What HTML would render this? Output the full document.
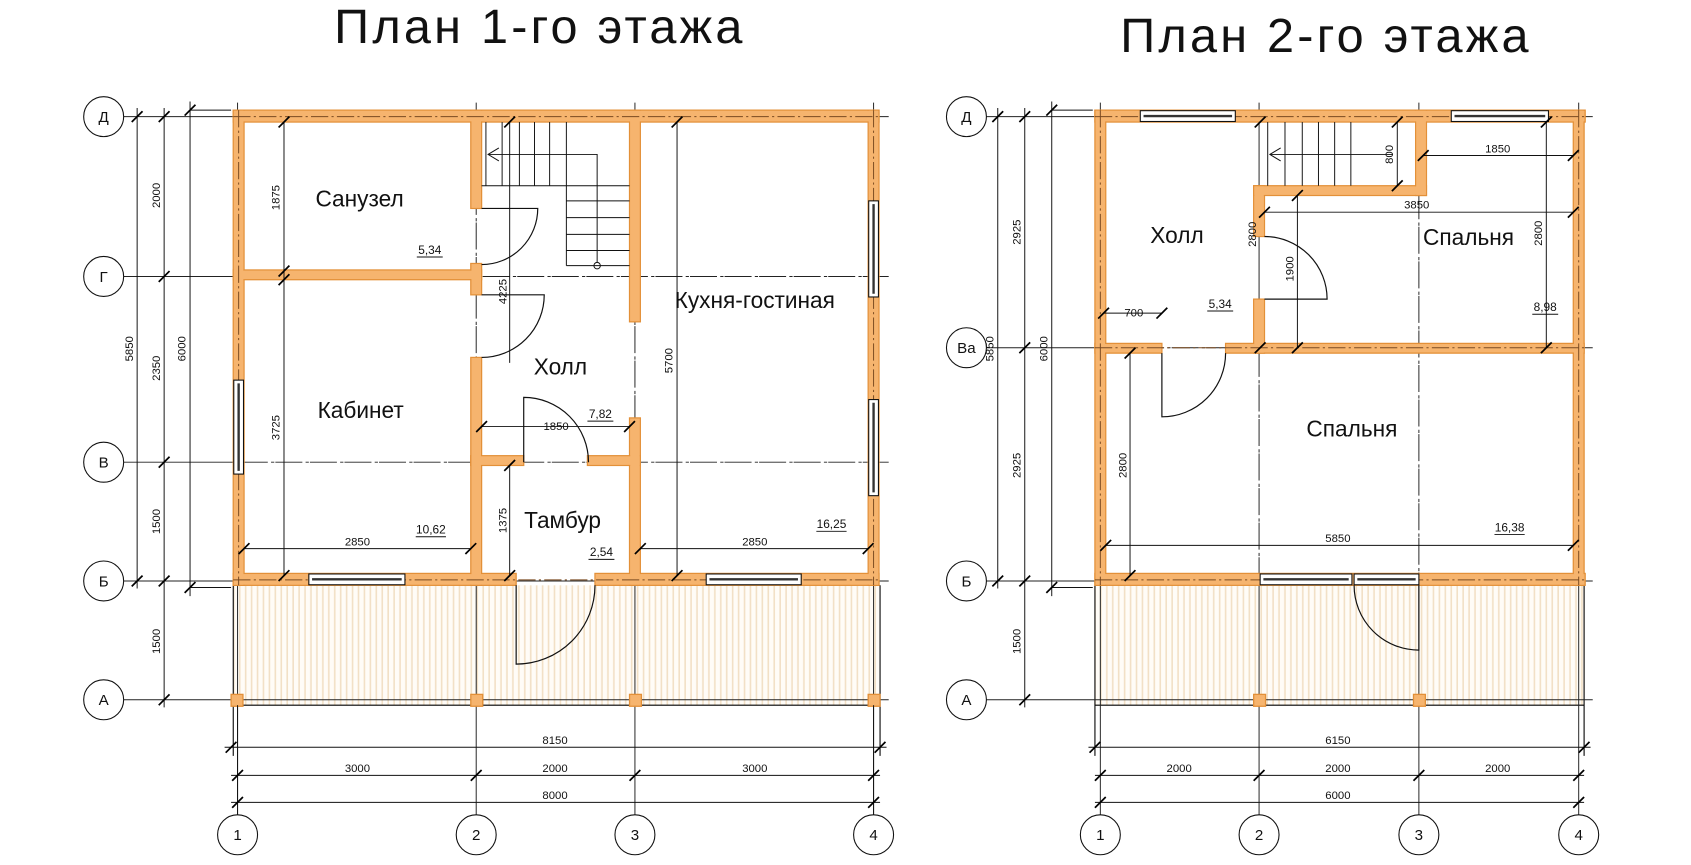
<!DOCTYPE html>
<html><head><meta charset="utf-8"><style>
html,body{margin:0;padding:0;background:#fff;}
svg{display:block;}
text{font-family:"Liberation Sans","DejaVu Sans",sans-serif;fill:#111;}
.d{font-size:10.5px;}
.r{font-size:21px;}
.t{font-size:45px;letter-spacing:3px;}
.c{font-size:14px;}
</style></head><body>
<svg width="1691" height="865" viewBox="0 0 1566 801" preserveAspectRatio="none" xmlns="http://www.w3.org/2000/svg">
<defs>
<pattern id="hp" width="5.5" height="10" patternUnits="userSpaceOnUse">
<rect width="5.5" height="10" fill="#fffcf7"/>
<line x1="2" y1="0" x2="2" y2="10" stroke="#f2e0c6" stroke-width="1.5"/>
</pattern>
<line id="k" x1="-5" y1="5" x2="5" y2="-5" stroke="#000" stroke-width="1.6"/>
</defs>

<text class="t" x="500" y="40" text-anchor="middle">План 1-го этажа</text>
<text class="t" x="1228" y="48" text-anchor="middle">План 2-го этажа</text>

<rect x="216" y="542" width="598" height="111" fill="url(#hp)"/>
<rect x="1014" y="542" width="454" height="111" fill="url(#hp)"/>
<g stroke="#000" stroke-width="1" fill="none">
<line x1="216" y1="542" x2="216" y2="700"/><line x1="815" y1="542" x2="815" y2="700"/>
<line x1="216" y1="653" x2="815" y2="653"/>
<line x1="1014" y1="542" x2="1014" y2="700"/><line x1="1467" y1="542" x2="1467" y2="700"/>
<line x1="1014" y1="653" x2="1467" y2="653"/>
</g>

<g stroke="#222" stroke-width="0.9" fill="none">
<line x1="114" y1="108" x2="823" y2="108"/><line x1="114" y1="256" x2="823" y2="256"/>
<line x1="114" y1="428" x2="823" y2="428"/><line x1="114" y1="538" x2="823" y2="538"/>
<line x1="114" y1="648" x2="823" y2="648"/>
<line x1="220" y1="95" x2="220" y2="755"/><line x1="441" y1="95" x2="441" y2="755"/>
<line x1="588" y1="95" x2="588" y2="755"/><line x1="809" y1="95" x2="809" y2="755"/>
<line x1="913" y1="108" x2="1475" y2="108"/><line x1="913" y1="322" x2="1475" y2="322"/>
<line x1="913" y1="538" x2="1475" y2="538"/><line x1="913" y1="648" x2="1475" y2="648"/>
<line x1="1019" y1="95" x2="1019" y2="755"/><line x1="1166" y1="95" x2="1166" y2="755"/>
<line x1="1314" y1="95" x2="1314" y2="755"/><line x1="1462" y1="95" x2="1462" y2="755"/>
</g>
<g stroke="#fff" stroke-width="2" stroke-dasharray="0 22 3 3 1 3" fill="none">
<line x1="226" y1="256" x2="804" y2="256"/><line x1="226" y1="428" x2="804" y2="428"/>
<line x1="441" y1="113" x2="441" y2="531"/><line x1="588" y1="113" x2="588" y2="531"/>
<line x1="1024" y1="322" x2="1457" y2="322"/>
<line x1="1166" y1="327" x2="1166" y2="531"/><line x1="1314" y1="181" x2="1314" y2="531"/>
</g>

<g fill="#f6b46e" stroke="#e39038" stroke-width="1.2">
<rect x="216" y="102" width="598" height="11"/><rect x="216" y="531" width="262" height="11"/>
<rect x="551" y="531" width="263" height="11"/><rect x="216" y="102" width="10" height="440"/>
<rect x="804" y="102" width="10" height="440"/>
<rect x="216" y="250" width="230" height="9"/>
<rect x="436" y="102" width="10" height="91"/><rect x="436" y="244" width="10" height="29"/>
<rect x="436" y="331" width="10" height="211"/>
<rect x="583" y="102" width="10" height="196"/><rect x="583" y="387" width="10" height="155"/>
<rect x="436" y="422" width="49" height="9"/><rect x="544" y="422" width="49" height="9"/>
<rect x="214" y="643" width="11" height="11"/><rect x="436" y="643" width="11" height="11"/>
<rect x="583" y="643" width="11" height="11"/><rect x="804" y="643" width="11" height="11"/>
<rect x="1014" y="102" width="454" height="11"/><rect x="1014" y="531" width="454" height="11"/>
<rect x="1014" y="102" width="10" height="440"/><rect x="1457" y="102" width="10" height="440"/>
<rect x="1014" y="318" width="62" height="9"/><rect x="1135" y="318" width="332" height="9"/>
<rect x="1161" y="172" width="10" height="47"/><rect x="1161" y="277" width="10" height="50"/>
<rect x="1161" y="172" width="160" height="9"/><rect x="1311" y="102" width="10" height="79"/>
<rect x="1161" y="643" width="11" height="11"/><rect x="1309" y="643" width="11" height="11"/>
</g>
<g fill="#f6b46e">
<rect x="216.6" y="102.6" width="596.8" height="9.8"/><rect x="216.6" y="531.6" width="260.8" height="9.8"/>
<rect x="551.6" y="531.6" width="261.8" height="9.8"/><rect x="216.6" y="102.6" width="8.8" height="438.8"/>
<rect x="804.6" y="102.6" width="8.8" height="438.8"/>
<rect x="226" y="250.6" width="219.4" height="7.8"/>
<rect x="436.6" y="103" width="8.8" height="89.4"/><rect x="436.6" y="244.6" width="8.8" height="27.8"/>
<rect x="436.6" y="331.6" width="8.8" height="209"/>
<rect x="583.6" y="103" width="8.8" height="194.4"/><rect x="583.6" y="387.6" width="8.8" height="153"/>
<rect x="437" y="422.6" width="47.4" height="7.8"/><rect x="544.6" y="422.6" width="47.4" height="7.8"/>
<rect x="1014.6" y="102.6" width="452.8" height="9.8"/><rect x="1014.6" y="531.6" width="452.8" height="9.8"/>
<rect x="1014.6" y="102.6" width="8.8" height="438.8"/><rect x="1457.6" y="102.6" width="8.8" height="438.8"/>
<rect x="1015" y="318.6" width="60.4" height="7.8"/><rect x="1135.6" y="318.6" width="331" height="7.8"/>
<rect x="1161.6" y="172.6" width="8.8" height="46"/><rect x="1161.6" y="277.6" width="8.8" height="49"/>
<rect x="1162" y="172.6" width="158.4" height="7.8"/><rect x="1311.6" y="103" width="8.8" height="77.4"/>
</g>
<g stroke="#7a4a20" stroke-width="0.9" stroke-dasharray="16 3 2 3" fill="none">
<line x1="216" y1="108" x2="814" y2="108"/><line x1="216" y1="537" x2="814" y2="537"/>
<line x1="221" y1="102" x2="221" y2="542"/><line x1="809" y1="102" x2="809" y2="542"/>
<line x1="1014" y1="108" x2="1467" y2="108"/><line x1="1014" y1="537" x2="1467" y2="537"/>
<line x1="1019" y1="102" x2="1019" y2="542"/><line x1="1462" y1="102" x2="1462" y2="542"/>
<line x1="1014" y1="322" x2="1467" y2="322"/>
</g>

<g fill="#fff" stroke="#111" stroke-width="1">
<rect x="216.5" y="352" width="9" height="87"/><rect x="804.5" y="186" width="9" height="89"/>
<rect x="804.5" y="370" width="9" height="89"/>
<rect x="286" y="531.5" width="89" height="10"/><rect x="654" y="531.5" width="88" height="10"/>
<rect x="1056" y="102.5" width="88" height="10"/><rect x="1344" y="102.5" width="90" height="10"/>
<rect x="1167" y="531.5" width="85" height="10"/><rect x="1254" y="531.5" width="60" height="10"/>
</g>
<g stroke="#333" stroke-width="2.2" fill="none">
<line x1="221" y1="355" x2="221" y2="436"/><line x1="809" y1="189" x2="809" y2="272"/>
<line x1="809" y1="373" x2="809" y2="456"/>
<line x1="289" y1="536.5" x2="372" y2="536.5"/><line x1="657" y1="536.5" x2="739" y2="536.5"/>
<line x1="1059" y1="107.5" x2="1141" y2="107.5"/><line x1="1347" y1="107.5" x2="1431" y2="107.5"/>
<line x1="1170" y1="536.5" x2="1249" y2="536.5"/><line x1="1257" y1="536.5" x2="1311" y2="536.5"/>
</g>

<g stroke="#111" stroke-width="1.1" fill="none">
<path d="M446 193 H498 A52 52 0 0 1 446 245"/>
<path d="M446 273 H504 A58 58 0 0 1 446 331"/>
<path d="M485 428 V368 A60 60 0 0 1 545 428"/>
<path d="M478 542 V615 A73 73 0 0 0 551 542"/>
<path d="M1171 277 H1229 A58 58 0 0 0 1171 219"/>
<path d="M1076 327 V386 A59 59 0 0 0 1135 327"/>
<path d="M1314 542 V602 A60 60 0 0 1 1254 542"/>
</g>

<g stroke="#111" stroke-width="0.9" fill="none">
<line x1="450" y1="113" x2="450" y2="172"/><line x1="465" y1="113" x2="465" y2="172"/>
<line x1="481" y1="113" x2="481" y2="172"/><line x1="495" y1="113" x2="495" y2="172"/>
<line x1="509" y1="113" x2="509" y2="172"/><line x1="524.5" y1="113" x2="524.5" y2="246"/>
<line x1="446" y1="172" x2="583" y2="172"/>
<line x1="524.5" y1="186" x2="583" y2="186"/><line x1="524.5" y1="201.5" x2="583" y2="201.5"/>
<line x1="524.5" y1="217" x2="583" y2="217"/><line x1="524.5" y1="232" x2="583" y2="232"/>
<line x1="524.5" y1="246" x2="583" y2="246"/>
<path d="M452 143 H553 V243"/><circle cx="553" cy="246" r="3"/>
<path d="M462 137 L452 143 L462 149"/>
<line x1="1174" y1="113" x2="1174" y2="172"/><line x1="1190" y1="113" x2="1190" y2="172"/>
<line x1="1206" y1="113" x2="1206" y2="172"/><line x1="1221" y1="113" x2="1221" y2="172"/>
<line x1="1236" y1="113" x2="1236" y2="172"/><line x1="1251" y1="113" x2="1251" y2="172"/>
<path d="M1176 143 H1290"/><path d="M1186 137 L1176 143 L1186 149"/>
</g>

<g stroke="#111" stroke-width="0.9" fill="none">
<line x1="127" y1="100" x2="127" y2="545"/><line x1="152" y1="100" x2="152" y2="655"/>
<line x1="176" y1="94" x2="176" y2="552"/>
<line x1="176" y1="102" x2="214" y2="102"/><line x1="176" y1="544" x2="214" y2="544"/>
<line x1="263" y1="113" x2="263" y2="533"/>
<line x1="472" y1="113" x2="472" y2="336"/><line x1="472" y1="431" x2="472" y2="533"/>
<line x1="627" y1="113" x2="627" y2="533"/>
<line x1="226" y1="508" x2="436" y2="508"/><line x1="446" y1="395" x2="583" y2="395"/>
<line x1="593" y1="508" x2="804" y2="508"/>
<line x1="208" y1="692" x2="821" y2="692"/><line x1="214" y1="718" x2="815" y2="718"/>
<line x1="214" y1="743" x2="815" y2="743"/>
<line x1="924" y1="100" x2="924" y2="545"/><line x1="949" y1="100" x2="949" y2="655"/>
<line x1="974" y1="94" x2="974" y2="552"/>
<line x1="974" y1="102" x2="1012" y2="102"/><line x1="974" y1="544" x2="1012" y2="544"/>
<line x1="1022" y1="290" x2="1076" y2="290"/>
<line x1="1294" y1="113" x2="1294" y2="172"/>
<line x1="1318" y1="144" x2="1457" y2="144"/>
<line x1="1171" y1="196.5" x2="1457" y2="196.5"/>
<line x1="1201.5" y1="181" x2="1201.5" y2="322"/>
<line x1="1432" y1="113" x2="1432" y2="322"/>
<line x1="1046.5" y1="327" x2="1046.5" y2="533"/>
<line x1="1024" y1="505" x2="1457" y2="505"/>
<line x1="1008" y1="692" x2="1473" y2="692"/><line x1="1014" y1="718" x2="1467" y2="718"/>
<line x1="1014" y1="743" x2="1467" y2="743"/>
<line x1="220" y1="653" x2="220" y2="755"/><line x1="809" y1="653" x2="809" y2="755"/>
</g>

<g>
<use href="#k" x="127" y="108"/><use href="#k" x="127" y="538"/>
<use href="#k" x="152" y="108"/><use href="#k" x="152" y="256"/><use href="#k" x="152" y="428"/>
<use href="#k" x="152" y="538"/><use href="#k" x="152" y="648"/>
<use href="#k" x="176" y="102"/><use href="#k" x="176" y="544"/>
<use href="#k" x="263" y="113"/><use href="#k" x="263" y="251"/><use href="#k" x="263" y="259"/><use href="#k" x="263" y="533"/>
<use href="#k" x="472" y="113"/><use href="#k" x="472" y="431"/><use href="#k" x="472" y="533"/>
<use href="#k" x="627" y="113"/><use href="#k" x="627" y="533"/>
<use href="#k" x="226" y="508"/><use href="#k" x="436" y="508"/>
<use href="#k" x="446" y="395"/><use href="#k" x="583" y="395"/>
<use href="#k" x="593" y="508"/><use href="#k" x="804" y="508"/>
<use href="#k" x="214" y="692"/><use href="#k" x="815" y="692"/>
<use href="#k" x="220" y="718"/><use href="#k" x="441" y="718"/><use href="#k" x="588" y="718"/><use href="#k" x="809" y="718"/>
<use href="#k" x="220" y="743"/><use href="#k" x="809" y="743"/>
<use href="#k" x="924" y="108"/><use href="#k" x="924" y="538"/>
<use href="#k" x="949" y="108"/><use href="#k" x="949" y="322"/><use href="#k" x="949" y="538"/><use href="#k" x="949" y="648"/>
<use href="#k" x="974" y="102"/><use href="#k" x="974" y="544"/>
<use href="#k" x="1022" y="290"/><use href="#k" x="1076" y="290"/>
<use href="#k" x="1294" y="113"/><use href="#k" x="1294" y="172"/>
<use href="#k" x="1318" y="144"/><use href="#k" x="1457" y="144"/>
<use href="#k" x="1171" y="196.5"/><use href="#k" x="1457" y="196.5"/>
<use href="#k" x="1201.5" y="181"/><use href="#k" x="1201.5" y="322"/>
<use href="#k" x="1432" y="113"/><use href="#k" x="1432" y="322"/>
<use href="#k" x="1046.5" y="327"/><use href="#k" x="1046.5" y="533"/>
<use href="#k" x="1167" y="113"/><use href="#k" x="1167" y="322"/>
<use href="#k" x="1024" y="505"/><use href="#k" x="1457" y="505"/>
<use href="#k" x="1014" y="692"/><use href="#k" x="1467" y="692"/>
<use href="#k" x="1019" y="718"/><use href="#k" x="1166" y="718"/><use href="#k" x="1314" y="718"/><use href="#k" x="1462" y="718"/>
<use href="#k" x="1019" y="743"/><use href="#k" x="1462" y="743"/>
</g>

<g class="d" text-anchor="middle">
<text transform="translate(148,181) rotate(-90)">2000</text>
<text transform="translate(259,183) rotate(-90)">1875</text>
<text transform="translate(123,323) rotate(-90)">5850</text>
<text transform="translate(148,341) rotate(-90)">2350</text>
<text transform="translate(172,323) rotate(-90)">6000</text>
<text transform="translate(259,396) rotate(-90)">3725</text>
<text transform="translate(148,483) rotate(-90)">1500</text>
<text transform="translate(148,594) rotate(-90)">1500</text>
<text transform="translate(469,270) rotate(-90)">4225</text>
<text transform="translate(623,334) rotate(-90)">5700</text>
<text transform="translate(469,482) rotate(-90)">1375</text>
<text transform="translate(945,215) rotate(-90)">2925</text>
<text transform="translate(945,431) rotate(-90)">2925</text>
<text transform="translate(945,594) rotate(-90)">1500</text>
<text transform="translate(920,323) rotate(-90)">5850</text>
<text transform="translate(970,323) rotate(-90)">6000</text>
<text transform="translate(1290,143) rotate(-90)">800</text>
<text transform="translate(1163,217) rotate(-90)">2800</text>
<text transform="translate(1198,249) rotate(-90)">1900</text>
<text transform="translate(1428,216) rotate(-90)">2800</text>
<text transform="translate(1043,431) rotate(-90)">2800</text>
<text x="331" y="505">2850</text><text x="515" y="398">1850</text><text x="699" y="505">2850</text>
<text x="514" y="689">8150</text><text x="331" y="715">3000</text><text x="514" y="715">2000</text>
<text x="699" y="715">3000</text><text x="514" y="740">8000</text>
<text x="1050" y="293">700</text><text x="1387" y="141">1850</text><text x="1312" y="193">3850</text>
<text x="1239" y="502">5850</text>
<text x="1239" y="689">6150</text><text x="1092" y="715">2000</text><text x="1239" y="715">2000</text>
<text x="1387" y="715">2000</text><text x="1239" y="740">6000</text>
</g>

<g class="d" text-anchor="middle" style="font-size:11px">
<text x="398" y="235">5,34</text><text x="399" y="494">10,62</text><text x="556" y="387">7,82</text>
<text x="557" y="515">2,54</text><text x="770" y="489">16,25</text>
<text x="1130" y="285">5,34</text><text x="1431" y="288">8,98</text><text x="1398" y="492">16,38</text>
</g>
<g stroke="#111" stroke-width="0.9">
<line x1="386" y1="238" x2="410" y2="238"/><line x1="385" y1="497" x2="413" y2="497"/>
<line x1="544" y1="390" x2="568" y2="390"/><line x1="545" y1="518" x2="569" y2="518"/>
<line x1="756" y1="492" x2="784" y2="492"/>
<line x1="1118" y1="288" x2="1142" y2="288"/><line x1="1419" y1="291" x2="1443" y2="291"/>
<line x1="1384" y1="495" x2="1412" y2="495"/>
</g>

<g class="r" text-anchor="middle">
<text x="333" y="191">Санузел</text>
<text x="334" y="387">Кабинет</text>
<text x="519" y="347">Холл</text>
<text x="699" y="285">Кухня-гостиная</text>
<text x="521" y="489">Тамбур</text>
<text x="1090" y="225">Холл</text>
<text x="1360" y="227">Спальня</text>
<text x="1252" y="404">Спальня</text>
</g>

<g fill="#fff" stroke="#111" stroke-width="1">
<circle cx="96" cy="108" r="18.5"/><circle cx="96" cy="256" r="18.5"/><circle cx="96" cy="428" r="18.5"/>
<circle cx="96" cy="538" r="18.5"/><circle cx="96" cy="648" r="18.5"/>
<circle cx="220" cy="773" r="18.5"/><circle cx="441" cy="773" r="18.5"/><circle cx="588" cy="773" r="18.5"/><circle cx="809" cy="773" r="18.5"/>
<circle cx="895" cy="108" r="18.5"/><circle cx="895" cy="322" r="18.5"/><circle cx="895" cy="538" r="18.5"/><circle cx="895" cy="648" r="18.5"/>
<circle cx="1019" cy="773" r="18.5"/><circle cx="1166" cy="773" r="18.5"/><circle cx="1314" cy="773" r="18.5"/><circle cx="1462" cy="773" r="18.5"/>
</g>
<g class="c" text-anchor="middle">
<text x="96" y="113">Д</text><text x="96" y="261">Г</text><text x="96" y="433">В</text><text x="96" y="543">Б</text><text x="96" y="653">А</text>
<text x="220" y="778">1</text><text x="441" y="778">2</text><text x="588" y="778">3</text><text x="809" y="778">4</text>
<text x="895" y="113">Д</text><text x="895" y="327">Ва</text><text x="895" y="543">Б</text><text x="895" y="653">А</text>
<text x="1019" y="778">1</text><text x="1166" y="778">2</text><text x="1314" y="778">3</text><text x="1462" y="778">4</text>
</g>
</svg>
</body></html>
